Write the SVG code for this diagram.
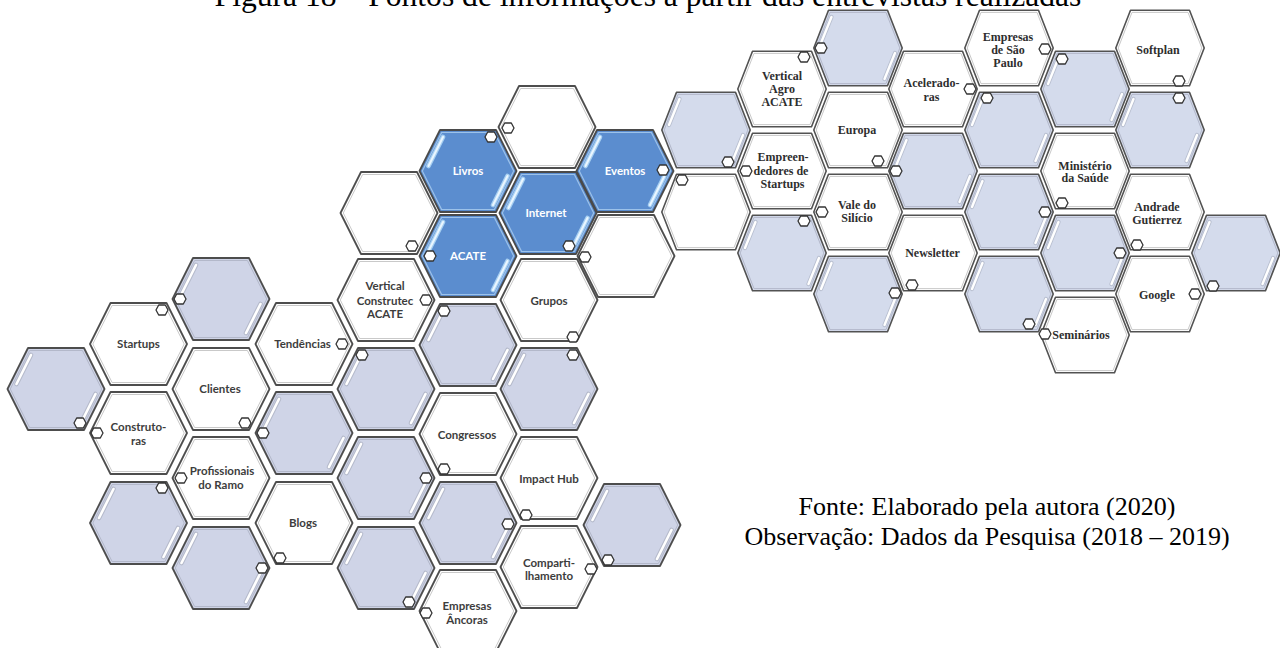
<svg xmlns="http://www.w3.org/2000/svg" xmlns:xlink="http://www.w3.org/1999/xlink" width="1280" height="648" viewBox="0 0 1280 648">
  <style>
    .hw { fill: #ffffff; stroke: #4d4d4d; stroke-width: 1.8; stroke-linejoin: round; }
    .hg { fill: #cfd4e7; stroke: #4d4d4d; stroke-width: 1.8; stroke-linejoin: round; }
    .hb { fill: #5b8dcf; stroke: #4a4a4a; stroke-width: 1.8; stroke-linejoin: round; }
    .rw { fill: #ffffff; stroke: #525252; stroke-width: 1.6; stroke-linejoin: round; }
    .rg { fill: #d4dbec; stroke: #525252; stroke-width: 1.6; stroke-linejoin: round; }
    .iw { fill: none; stroke: #c9c9c9; stroke-width: 1; }
    .ig { fill: none; stroke: #b3b8ca; stroke-width: 1; }
    .ib { fill: none; stroke: #9cc2ea; stroke-width: 1.2; }
    .sm { fill: #ffffff; stroke: #333333; stroke-width: 1.3; stroke-linejoin: round; }
    .tL { font-family: Lato, "Open Sans", sans-serif; font-weight: 700; font-size: 11.5px; fill: #3d3d3d; text-anchor: middle; }
    .tW { fill: #ffffff; }
    .tR { font-family: "Liberation Serif", "Times New Roman", serif; font-weight: 700; font-size: 12px; fill: #2e2e2e; text-anchor: middle; }
    .cap { font-family: "Liberation Serif", "Times New Roman", serif; fill: #000000; text-anchor: middle; }
  </style>
  <defs>
    <!-- large cell, left cluster -->
    <polygon id="hxL" points="-48.5,0 -28,-41 28,-41 48.5,0 28,41 -28,41"/>
    <polygon id="hxLi" points="-45.7,0 -26.4,-38.5 26.4,-38.5 45.7,0 26.4,38.5 -26.4,38.5"/>
    <!-- large cell, right cluster -->
    <polygon id="hxR" points="-44.2,0 -29.5,-37.8 29.5,-37.8 44.2,0 29.5,37.8 -29.5,37.8"/>
    <polygon id="hxRi" points="-41.8,0 -28,-35.6 28,-35.6 41.8,0 28,35.6 -28,35.6"/>
    <!-- small corner cell -->
    <polygon id="sm" points="-6,0 -3.3,-5 3.3,-5 6,0 3.3,5 -3.3,5"/>
    <!-- glossy edge highlights -->
    <g id="shG" fill="none" stroke-linecap="round">
      <path d="M-25,-34 L-39.5,-5 M25,34 L39.5,5" stroke="#b4b9ca" stroke-width="4.6"/>
      <path d="M-25,-34 L-39.5,-5 M25,34 L39.5,5" stroke="#ffffff" stroke-width="2.6"/>
    </g>
    <g id="shB" fill="none" stroke-linecap="round">
      <path d="M-25,-34 L-39.5,-5 M25,34 L39.5,5" stroke="#a8d0f2" stroke-width="4.6"/>
      <path d="M-25,-34 L-39.5,-5 M25,34 L39.5,5" stroke="#eaf6ff" stroke-width="2"/>
    </g>
    <g id="shR" fill="none" stroke-linecap="round">
      <path d="M-26.5,-31 L-37,-5 M26.5,31 L37,5" stroke="#b8bfd0" stroke-width="4.2"/>
      <path d="M-26.5,-31 L-37,-5 M26.5,31 L37,5" stroke="#ffffff" stroke-width="2.4"/>
    </g>
  </defs>

  <!-- title line, cut at the top edge -->
  <text class="cap" x="648" y="6" font-size="31.6">Figura 18 – Pontos de informações a partir das entrevistas realizadas</text>

  <!-- left cluster -->
  <g id="l01" transform="translate(56,389)"><use href="#hxL" class="hg"/><use href="#hxLi" class="ig"/><use href="#shG"/><use href="#sm" class="sm" x="24" y="34"/></g>
  <g id="startups" transform="translate(138.5,344)"><use href="#hxL" class="hw"/><use href="#hxLi" class="iw"/><use href="#sm" class="sm" x="23.5" y="-34"/><text class="tL" x="0" y="4">Startups</text></g>
  <g id="construtoras" transform="translate(138.5,433)"><use href="#hxL" class="hw"/><use href="#hxLi" class="iw"/><use href="#sm" class="sm" x="-41.5" y="0"/><text class="tL" x="0" y="-2">Construto-</text><text class="tL" x="0" y="12">ras</text></g>
  <g id="l04" transform="translate(138.5,523)"><use href="#hxL" class="hg"/><use href="#hxLi" class="ig"/><use href="#shG"/><use href="#sm" class="sm" x="23.5" y="-35"/></g>
  <g id="l05" transform="translate(221,299)"><use href="#hxL" class="hg"/><use href="#hxLi" class="ig"/><use href="#shG"/><use href="#sm" class="sm" x="-41" y="0"/></g>
  <g id="clientes" transform="translate(221,389)"><use href="#hxL" class="hw"/><use href="#hxLi" class="iw"/><use href="#sm" class="sm" x="24" y="34"/><text class="tL" x="-1" y="4">Clientes</text></g>
  <g id="profissionais" transform="translate(221,478)"><use href="#hxL" class="hw"/><use href="#hxLi" class="iw"/><use href="#sm" class="sm" x="-40" y="0"/><text class="tL" x="1" y="-3">Profissionais</text><text class="tL" x="0" y="11">do Ramo</text></g>
  <g id="l08" transform="translate(221,568)"><use href="#hxL" class="hg"/><use href="#hxLi" class="ig"/><use href="#shG"/><use href="#sm" class="sm" x="41" y="0"/></g>
  <g id="tendencias" transform="translate(304,344)"><use href="#hxL" class="hw"/><use href="#hxLi" class="iw"/><use href="#sm" class="sm" x="38" y="0"/><text class="tL" x="-1.5" y="4">Tendências</text></g>
  <g id="l10" transform="translate(304,433)"><use href="#hxL" class="hg"/><use href="#hxLi" class="ig"/><use href="#shG"/><use href="#sm" class="sm" x="-41" y="0"/></g>
  <g id="blogs" transform="translate(304,523)"><use href="#hxL" class="hw"/><use href="#hxLi" class="iw"/><use href="#sm" class="sm" x="-24" y="35"/><text class="tL" x="-1" y="4">Blogs</text></g>
  <g id="l12" transform="translate(389,213)"><use href="#hxL" class="hw"/><use href="#hxLi" class="iw"/><use href="#sm" class="sm" x="23" y="33"/></g>
  <g id="vertical-construtec" transform="translate(386,300)"><use href="#hxL" class="hw"/><use href="#hxLi" class="iw"/><use href="#sm" class="sm" x="40" y="0"/><text class="tL" x="-1" y="-10">Vertical</text><text class="tL" x="-1" y="4.5">Construtec</text><text class="tL" x="-1" y="17.5">ACATE</text></g>
  <g id="l14" transform="translate(386,389)"><use href="#hxL" class="hg"/><use href="#hxLi" class="ig"/><use href="#shG"/><use href="#sm" class="sm" x="-24" y="-34"/></g>
  <g id="l15" transform="translate(386,478)"><use href="#hxL" class="hg"/><use href="#hxLi" class="ig"/><use href="#shG"/><use href="#sm" class="sm" x="40" y="0"/></g>
  <g id="l16" transform="translate(386,568)"><use href="#hxL" class="hg"/><use href="#hxLi" class="ig"/><use href="#shG"/><use href="#sm" class="sm" x="23" y="34"/></g>
  <g id="livros" transform="translate(468,171)"><use href="#hxL" class="hb"/><use href="#hxLi" class="ib"/><use href="#shB"/><use href="#sm" class="sm" x="23" y="-34"/><text class="tL tW" x="0" y="4">Livros</text></g>
  <g id="acate" transform="translate(468,256)"><use href="#hxL" class="hb"/><use href="#hxLi" class="ib"/><use href="#shB"/><use href="#sm" class="sm" x="-38" y="0"/><text class="tL tW" x="0" y="4">ACATE</text></g>
  <g id="l19" transform="translate(468,345)"><use href="#hxL" class="hg"/><use href="#hxLi" class="ig"/><use href="#shG"/><use href="#sm" class="sm" x="-24" y="-34"/></g>
  <g id="congressos" transform="translate(468,434)"><use href="#hxL" class="hw"/><use href="#hxLi" class="iw"/><use href="#sm" class="sm" x="-24" y="35"/><text class="tL" x="-1" y="4.5">Congressos</text></g>
  <g id="l21" transform="translate(468,523)"><use href="#hxL" class="hg"/><use href="#hxLi" class="ig"/><use href="#shG"/><use href="#sm" class="sm" x="40" y="1"/></g>
  <g id="empresas-ancoras" transform="translate(468,611)"><use href="#hxL" class="hw"/><use href="#hxLi" class="iw"/><use href="#sm" class="sm" x="-42" y="2"/><text class="tL" x="-1" y="-1">Empresas</text><text class="tL" x="-1" y="13">Âncoras</text></g>
  <g id="l23" transform="translate(547,127)"><use href="#hxL" class="hw"/><use href="#hxLi" class="iw"/><use href="#sm" class="sm" x="-39" y="1"/></g>
  <g id="internet" transform="translate(548,213)"><use href="#hxL" class="hb"/><use href="#hxLi" class="ib"/><use href="#shB"/><use href="#sm" class="sm" x="21" y="33"/><text class="tL tW" x="-2" y="4">Internet</text></g>
  <g id="grupos" transform="translate(549,300)"><use href="#hxL" class="hw"/><use href="#hxLi" class="iw"/><use href="#sm" class="sm" x="24" y="37"/><text class="tL" x="0" y="4.5">Grupos</text></g>
  <g id="l26" transform="translate(549,389)"><use href="#hxL" class="hg"/><use href="#hxLi" class="ig"/><use href="#shG"/><use href="#sm" class="sm" x="24" y="-34"/></g>
  <g id="impact-hub" transform="translate(549,478)"><use href="#hxL" class="hw"/><use href="#hxLi" class="iw"/><use href="#sm" class="sm" x="-23" y="37"/><text class="tL" x="0" y="5">Impact Hub</text></g>
  <g id="compartilhamento" transform="translate(549,567)"><use href="#hxL" class="hw"/><use href="#hxLi" class="iw"/><use href="#sm" class="sm" x="42" y="2"/><text class="tL" x="0" y="0">Comparti-</text><text class="tL" x="0" y="13">lhamento</text></g>
  <g id="eventos" transform="translate(625,171)"><use href="#hxL" class="hb"/><use href="#hxLi" class="ib"/><use href="#shB"/><use href="#sm" class="sm" x="38" y="-1"/><text class="tL tW" x="0" y="4">Eventos</text></g>
  <g id="l30" transform="translate(626,256)"><use href="#hxL" class="hw"/><use href="#hxLi" class="iw"/><use href="#sm" class="sm" x="-41" y="1"/></g>
  <g id="l31" transform="translate(632,525)"><use href="#hxL" class="hg"/><use href="#hxLi" class="ig"/><use href="#shG"/><use href="#sm" class="sm" x="-24" y="35"/></g>

  <!-- right cluster -->
  <g id="r01" transform="translate(706,130)"><use href="#hxR" class="rg"/><use href="#hxRi" class="ig"/><use href="#shR"/><use href="#sm" class="sm" x="22" y="32"/></g>
  <g id="r02" transform="translate(706,212)"><use href="#hxR" class="rw"/><use href="#hxRi" class="iw"/><use href="#sm" class="sm" x="-24" y="-32"/></g>
  <g id="vertical-agro" transform="translate(782,89)"><use href="#hxR" class="rw"/><use href="#hxRi" class="iw"/><use href="#sm" class="sm" x="22" y="-32"/><text class="tR" x="0" y="-9">Vertical</text><text class="tR" x="0" y="4">Agro</text><text class="tR" x="0" y="16.7">ACATE</text></g>
  <g id="empreendedores" transform="translate(782,171)"><use href="#hxR" class="rw"/><use href="#hxRi" class="iw"/><use href="#sm" class="sm" x="-36" y="0"/><text class="tR" x="1" y="-10">Empreen-</text><text class="tR" x="-1" y="4">dedores de</text><text class="tR" x="0.5" y="16.5">Startups</text></g>
  <g id="r05" transform="translate(782,253)"><use href="#hxR" class="rg"/><use href="#hxRi" class="ig"/><use href="#shR"/><use href="#sm" class="sm" x="22" y="-32"/></g>
  <g id="r06" transform="translate(858,48)"><use href="#hxR" class="rg"/><use href="#hxRi" class="ig"/><use href="#shR"/><use href="#sm" class="sm" x="-37" y="0"/></g>
  <g id="europa" transform="translate(858,130)"><use href="#hxR" class="rw"/><use href="#hxRi" class="iw"/><use href="#sm" class="sm" x="20" y="31"/><text class="tR" x="-1" y="4">Europa</text></g>
  <g id="vale-do-silicio" transform="translate(858,212)"><use href="#hxR" class="rw"/><use href="#hxRi" class="iw"/><use href="#sm" class="sm" x="-36" y="0"/><text class="tR" x="-1" y="-3">Vale do</text><text class="tR" x="-1" y="10.3">Silício</text></g>
  <g id="r09" transform="translate(858,294)"><use href="#hxR" class="rg"/><use href="#hxRi" class="ig"/><use href="#shR"/><use href="#sm" class="sm" x="37" y="-1"/></g>
  <g id="aceleradoras" transform="translate(933,89)"><use href="#hxR" class="rw"/><use href="#hxRi" class="iw"/><use href="#sm" class="sm" x="37" y="0"/><text class="tR" x="-1.5" y="-2.3">Acelerado-</text><text class="tR" x="-1.5" y="11.7">ras</text></g>
  <g id="r11" transform="translate(933,171)"><use href="#hxR" class="rg"/><use href="#hxRi" class="ig"/><use href="#shR"/><use href="#sm" class="sm" x="-37" y="0"/></g>
  <g id="newsletter" transform="translate(933,253)"><use href="#hxR" class="rw"/><use href="#hxRi" class="iw"/><use href="#sm" class="sm" x="-21" y="32"/><text class="tR" x="-0.5" y="4">Newsletter</text></g>
  <g id="empresas-sao-paulo" transform="translate(1009,48)"><use href="#hxR" class="rw"/><use href="#hxRi" class="iw"/><use href="#sm" class="sm" x="36" y="1"/><text class="tR" x="-1" y="-7.3">Empresas</text><text class="tR" x="-1" y="6">de São</text><text class="tR" x="-1" y="18.7">Paulo</text></g>
  <g id="r14" transform="translate(1009,130)"><use href="#hxR" class="rg"/><use href="#hxRi" class="ig"/><use href="#shR"/><use href="#sm" class="sm" x="-22" y="-32"/></g>
  <g id="r15" transform="translate(1009,212)"><use href="#hxR" class="rg"/><use href="#hxRi" class="ig"/><use href="#shR"/><use href="#sm" class="sm" x="36" y="0"/></g>
  <g id="r16" transform="translate(1009,294)"><use href="#hxR" class="rg"/><use href="#hxRi" class="ig"/><use href="#shR"/><use href="#sm" class="sm" x="20" y="30"/></g>
  <g id="r17" transform="translate(1085,89)"><use href="#hxR" class="rg"/><use href="#hxRi" class="ig"/><use href="#shR"/><use href="#sm" class="sm" x="-23" y="-30"/></g>
  <g id="ministerio" transform="translate(1085,171)"><use href="#hxR" class="rw"/><use href="#hxRi" class="iw"/><use href="#sm" class="sm" x="-23" y="32"/><text class="tR" x="0" y="-1">Ministério</text><text class="tR" x="0" y="11.3">da Saúde</text></g>
  <g id="r19" transform="translate(1085,253)"><use href="#hxR" class="rg"/><use href="#hxRi" class="ig"/><use href="#shR"/><use href="#sm" class="sm" x="35" y="0"/></g>
  <g id="seminarios" transform="translate(1085,335)"><use href="#hxR" class="rw"/><use href="#hxRi" class="iw"/><use href="#sm" class="sm" x="-40" y="-1"/><text class="tR" x="-4" y="3.5">Seminários</text></g>
  <g id="softplan" transform="translate(1160,48)"><use href="#hxR" class="rw"/><use href="#hxRi" class="iw"/><use href="#sm" class="sm" x="19" y="33"/><text class="tR" x="-2" y="6">Softplan</text></g>
  <g id="r22" transform="translate(1160,130)"><use href="#hxR" class="rg"/><use href="#hxRi" class="ig"/><use href="#shR"/><use href="#sm" class="sm" x="19" y="-32"/></g>
  <g id="andrade-gutierrez" transform="translate(1160,212)"><use href="#hxR" class="rw"/><use href="#hxRi" class="iw"/><use href="#sm" class="sm" x="-23" y="33"/><text class="tR" x="-3" y="-1.3">Andrade</text><text class="tR" x="-3" y="12">Gutierrez</text></g>
  <g id="google" transform="translate(1160,294)"><use href="#hxR" class="rw"/><use href="#hxRi" class="iw"/><use href="#sm" class="sm" x="35" y="0"/><text class="tR" x="-3" y="5">Google</text></g>
  <g id="r25" transform="translate(1236,253)"><use href="#hxR" class="rg"/><use href="#hxRi" class="ig"/><use href="#shR"/><use href="#sm" class="sm" x="-23" y="33"/></g>

  <!-- source note -->
  <text class="cap" x="987" y="515" font-size="26">Fonte: Elaborado pela autora (2020)</text>
  <text class="cap" x="987" y="545" font-size="26">Observação: Dados da Pesquisa (2018 – 2019)</text>
</svg>
